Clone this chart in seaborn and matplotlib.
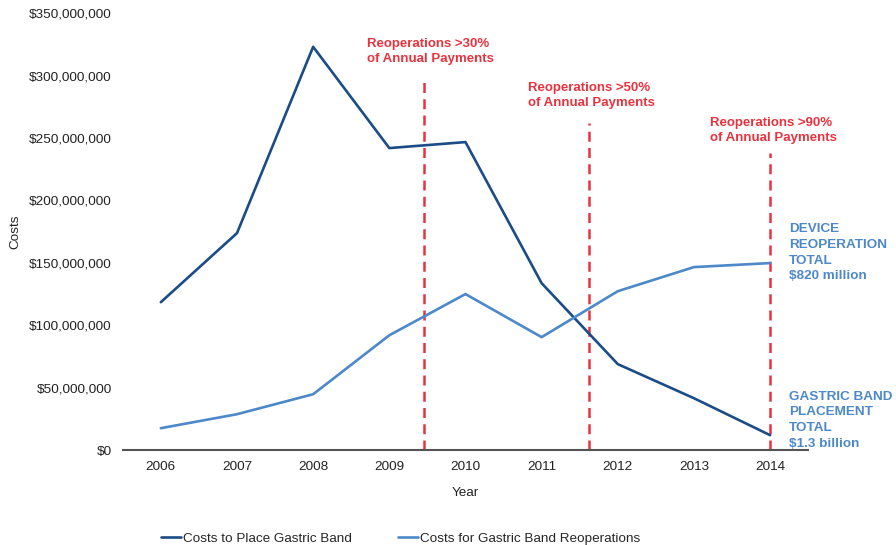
import matplotlib
matplotlib.use("Agg")
import matplotlib.pyplot as plt
import matplotlib.ticker as mticker
import seaborn as sns
import pandas as pd

years = [2006, 2007, 2008, 2009, 2010, 2011, 2012, 2013, 2014]
place_costs = [118.5e6, 173.8e6, 323.0e6, 241.9e6, 246.7e6, 133.7e6, 68.9e6, 41.6e6, 12.0e6]
reop_costs = [17.6e6, 28.8e6, 44.8e6, 92.0e6, 125.0e6, 90.5e6, 127.3e6, 146.6e6, 149.8e6]
series_names = ["Costs to Place Gastric Band", "Costs for Gastric Band Reoperations"]

threshold_years = [2009.46, 2011.62, 2014.0]
threshold_tops = [299e6, 262e6, 238e6]
threshold_labels = ["Reoperations >30%\nof Annual Payments",
                    "Reoperations >50%\nof Annual Payments",
                    "Reoperations >90%\nof Annual Payments"]
threshold_text_pos = [(2008.71, 319e6), (2010.82, 284e6), (2013.21, 256e6)]

total_labels = ["DEVICE\nREOPERATION\nTOTAL\n$820 million",
                "GASTRIC BAND\nPLACEMENT\nTOTAL\n$1.3 billion"]
total_text_pos = [(2014.25, 158e6), (2014.25, 24e6)]

dark = "#1c4c85"
light = "#4d88c9"
red = "#e8333e"

df = pd.DataFrame({
    "Year": years * 2,
    "Costs": place_costs + reop_costs,
    "Series": [series_names[0]] * len(years) + [series_names[1]] * len(years),
})

sns.set_theme(style="white")
plt.rcParams["font.family"] = ["Liberation Sans", "DejaVu Sans"]

fig = plt.figure(figsize=(8.96, 5.45), dpi=100)
ax = fig.add_axes([0.137, 0.174, 0.765, 0.802])

sns.lineplot(data=df, x="Year", y="Costs", hue="Series",
             palette=[dark, light], linewidth=1.9, ax=ax, legend=True)

for xv, top in zip(threshold_years, threshold_tops):
    ax.plot([xv, xv], [0, top], color=red, linestyle=(0, (4, 2.5)), linewidth=1.8, zorder=1)

for (tx, ty), lab in zip(threshold_text_pos, threshold_labels):
    ax.text(tx, ty, lab, color=red, fontsize=9.5, fontweight="bold",
            ha="left", va="center", linespacing=1.35)

for (tx, ty), lab in zip(total_text_pos, total_labels):
    ax.text(tx, ty, lab, color=light, fontsize=9.7, fontweight="bold",
            ha="left", va="center", linespacing=1.4, clip_on=False)

ax.set_xlim(2005.5, 2014.5)
ax.set_ylim(0, 350e6)
ax.set_xticks(years)
ax.set_yticks(range(0, 350_000_001, 50_000_000))
ax.yaxis.set_major_formatter(mticker.FuncFormatter(lambda v, p: f"${v:,.0f}"))
ax.tick_params(axis="both", labelsize=9.7, colors="#222222", length=0, pad=8)

for side in ["top", "right", "left"]:
    ax.spines[side].set_visible(False)
ax.spines["bottom"].set_color("#555555")
ax.spines["bottom"].set_linewidth(1.5)

ax.set_xlabel("Year", fontsize=9.7, color="#222222", labelpad=10)
ax.set_ylabel("Costs", fontsize=9.7, color="#222222", labelpad=5)

handles, labels = ax.get_legend_handles_labels()
ax.legend(handles, labels, loc="upper center", bbox_to_anchor=(0.405, -0.16),
          ncol=2, frameon=False, fontsize=9.7, handlelength=1.5,
          handletextpad=0.15, columnspacing=3.4)

fig.savefig("out.png", dpi=100)
